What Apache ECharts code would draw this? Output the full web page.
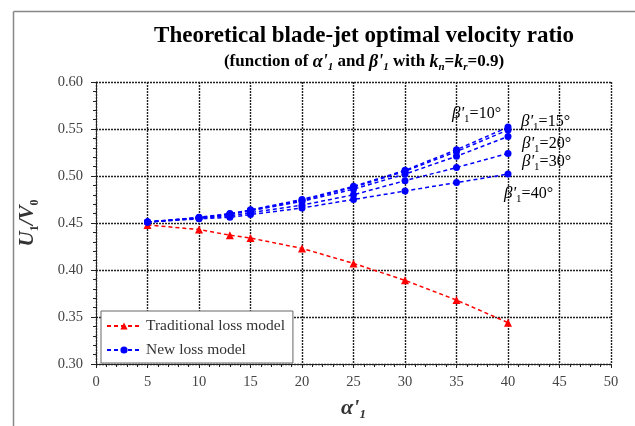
<!DOCTYPE html>
<html><head><meta charset="utf-8">
<script src="https://cdn.jsdelivr.net/npm/echarts@6/dist/echarts.min.js"></script>
<style>html,body{margin:0;padding:0;background:#fff}#c{width:635px;height:426px}</style>
</head><body><div id="c"></div>
<script>
const alphaVals = [5, 10, 13, 15, 20, 25, 30, 35, 40];
const traditional = [0.448, 0.443, 0.437, 0.434, 0.423, 0.407, 0.389, 0.368, 0.344];
const beta10 = [0.451, 0.456, 0.460, 0.464, 0.475, 0.489, 0.506, 0.528, 0.552];
const beta15 = [0.451, 0.4557, 0.4595, 0.4635, 0.474, 0.488, 0.505, 0.526, 0.549];
const beta20 = [0.451, 0.4555, 0.459, 0.463, 0.473, 0.486, 0.502, 0.521, 0.542];
const beta30 = [0.451, 0.455, 0.4575, 0.461, 0.469, 0.480, 0.495, 0.509, 0.524];
const beta40 = [0.451, 0.4545, 0.456, 0.459, 0.466, 0.475, 0.484, 0.493, 0.502];
const betaLabels = ['10', '15', '20', '30', '40'];

const SERIF = '"Liberation Serif","Times New Roman",serif';
const pair = (ys) => alphaVals.map((x, i) => [x, ys[i]]);

const blueSets = [beta10, beta15, beta20, beta30, beta40];
const series = [{
  name: 'Traditional loss model', type: 'line', data: pair(traditional),
  symbol: 'triangle', symbolSize: 8,
  lineStyle: { color: '#ff0000', type: [4, 3], width: 1.5 },
  itemStyle: { color: '#ff0000' }, z: 3
}];
blueSets.forEach(ys => series.push({
  name: 'New loss model', type: 'line', data: pair(ys),
  symbol: 'circle', symbolSize: 7,
  lineStyle: { color: '#0000ff', type: [4, 3], width: 1.5 },
  itemStyle: { color: '#0000ff' }, z: 4
}));

const richSub = {
  b: { fontFamily: SERIF, fontSize: 17, fontStyle: 'italic', color: '#555', lineHeight: 22 },
  s: { fontFamily: SERIF, fontSize: 11, color: '#555', verticalAlign: 'bottom', lineHeight: 22 },
  t: { fontFamily: SERIF, fontSize: 16, color: '#555', lineHeight: 22 }
};
const betaPos = [[452, 116], [521, 124], [522, 146], [522, 164], [504, 196]];
const betaGraphics = betaLabels.map((b, i) => ({
  type: 'text', left: betaPos[i][0], top: betaPos[i][1] - 11, z: 10,
  style: { text: '{b|β\'}{s|1}{t|=' + b + '°}', rich: richSub }
}));

const chart = echarts.init(document.getElementById('c'));
chart.setOption({
  backgroundColor: '#fff',
  animation: false,
  title: [{
    text: 'Theoretical blade-jet optimal velocity ratio',
    left: 359, top: 20, textAlign: 'center',
    textStyle: { fontFamily: SERIF, fontSize: 23, fontWeight: 'bold', color: '#000' }
  }, {
    text: '{n|(function of }{i|α\'}{s|1}{n| and }{i|β\'}{s|1}{n| with }{i|k}{s|n}{n|=}{i|k}{s|r}{n|=0.9)}',
    left: 359, top: 46, textAlign: 'center',
    textStyle: {
      rich: {
        n: { fontFamily: SERIF, fontSize: 17, fontWeight: 'bold', color: '#000', lineHeight: 22 },
        i: { fontFamily: SERIF, fontSize: 18, fontWeight: 'bold', fontStyle: 'italic', color: '#000', lineHeight: 22 },
        s: { fontFamily: SERIF, fontSize: 11, fontWeight: 'bold', fontStyle: 'italic', color: '#000', verticalAlign: 'bottom', lineHeight: 22 }
      }
    }
  }],
  grid: { left: 96, top: 82, width: 515, height: 288 },
  legend: {
    data: ['Traditional loss model', 'New loss model'],
    orient: 'vertical', left: 101, top: 311,
    itemWidth: 34, itemHeight: 9, itemGap: 8,
    padding: [7, 8, 5, 5],
    borderColor: '#666', borderWidth: 1, backgroundColor: '#fff',
    textStyle: { fontFamily: SERIF, fontSize: 15.5, color: '#333' }
  },
  xAxis: {
    type: 'value', min: 0, max: 50, interval: 5,
    name: '{i|α\'}{s|1}', nameLocation: 'middle', nameGap: 31,
    nameTextStyle: { rich: {
      i: { fontFamily: SERIF, fontSize: 22, fontStyle: 'italic', fontWeight: 'bold', color: '#333', lineHeight: 26 },
      s: { fontFamily: SERIF, fontSize: 13, fontStyle: 'italic', fontWeight: 'bold', color: '#333', verticalAlign: 'bottom', lineHeight: 26 }
    } },
    axisLine: { onZero: false, lineStyle: { color: '#222', width: 1 } },
    axisTick: { inside: false, length: 4, lineStyle: { color: '#222' } },
    minorTick: { show: true, splitNumber: 5, length: 3, lineStyle: { color: '#222' } },
    axisLabel: { fontFamily: SERIF, fontSize: 14.5, color: '#444', margin: 11 },
    splitLine: { show: true, lineStyle: { color: '#222', type: [2, 1], width: 1.4 } }
  },
  yAxis: {
    type: 'value', min: 0.30, max: 0.60, interval: 0.05,
    name: '{i|U}{s|1}{i|/V}{s|0}', nameLocation: 'middle', nameGap: 55, nameRotate: 90,
    nameTextStyle: { rich: {
      i: { fontFamily: SERIF, fontSize: 21, fontStyle: 'italic', fontWeight: 'bold', color: '#333', lineHeight: 26 },
      s: { fontFamily: SERIF, fontSize: 12, fontWeight: 'bold', color: '#333', verticalAlign: 'bottom', lineHeight: 26 }
    } },
    axisLine: { show: true, onZero: false, lineStyle: { color: '#222', width: 1 } },
    axisTick: { show: true, length: 5, lineStyle: { color: '#222' } },
    minorTick: { show: true, splitNumber: 5, length: 3, lineStyle: { color: '#222' } },
    axisLabel: { fontFamily: SERIF, fontSize: 14.5, color: '#444', margin: 13, formatter: v => v.toFixed(2) },
    splitLine: { show: true, lineStyle: { color: '#222', type: [2, 1], width: 1.4 } }
  },
  graphic: [
    { type: 'line', shape: { x1: 13.5, y1: 11.5, x2: 640, y2: 11.5 }, style: { stroke: '#888', lineWidth: 1.5 } },
    { type: 'line', shape: { x1: 13.5, y1: 11.5, x2: 13.5, y2: 430 }, style: { stroke: '#888', lineWidth: 1.5 } }
  ].concat(betaGraphics),
  series: series
});
</script></body></html>
